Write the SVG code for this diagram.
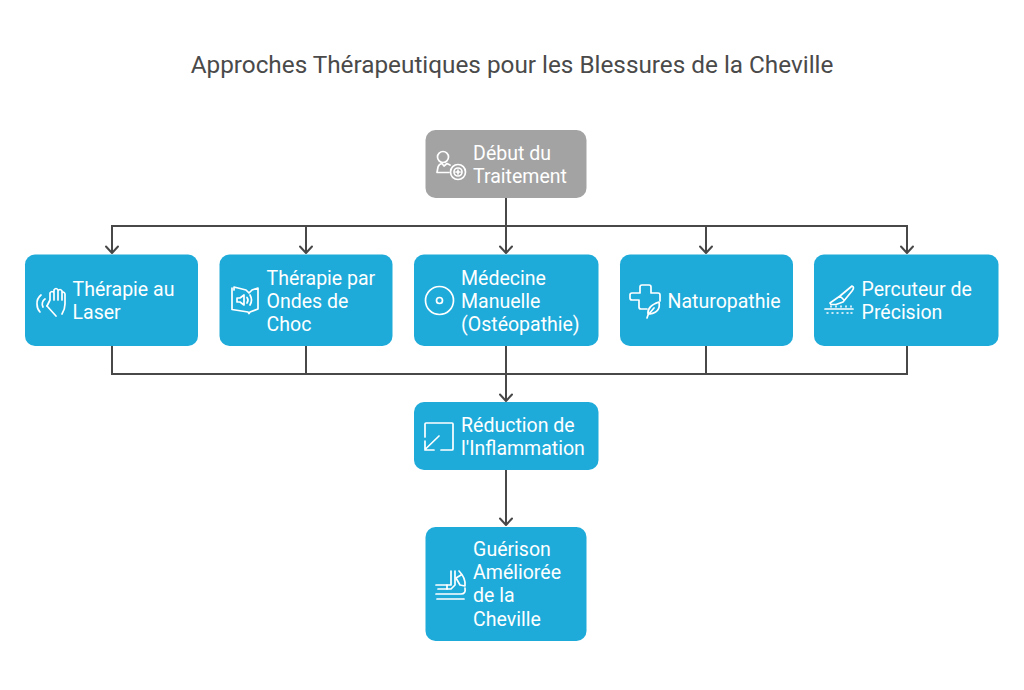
<svg xmlns="http://www.w3.org/2000/svg" width="1024" height="690" viewBox="0 0 1024 690">
<style>
text{font-family:Roboto,"Liberation Sans",sans-serif}
.t{font-size:19.5px;font-weight:400;fill:#fff;transform:translate(-.4px,.8px)}
.title{font-size:24.3px;fill:#4a4a4a}
.b{fill:#1eabda}
.g{fill:#a3a3a3}
.i{fill:none;stroke:#fff;stroke-width:1.7;stroke-linecap:round;stroke-linejoin:round}
.c{fill:none;stroke:#484848;stroke-width:2}
.a{fill:none;stroke:#484848;stroke-width:2;stroke-linecap:round;stroke-linejoin:round}
</style>
<defs>
<path id="ah" class="a" d="M-6-6.500 0 0 6-6.500"/>
</defs>
<rect width="1024" height="690" fill="#fff"/>
<text class="title" x="512" y="73" text-anchor="middle">Approches Thérapeutiques pour les Blessures de la Cheville</text>
<g id="connectors">
<path class="c" d="M506 198V252M112 252V226H907V252M306 226V252M706 226V252"/>
<path class="c" d="M112 346V374H907V346M306 346V374M506 346V400M706 346V374M506 470V524"/>
<use href="#ah" x="112" y="253"/><use href="#ah" x="306" y="253"/><use href="#ah" x="506" y="253"/><use href="#ah" x="706" y="253"/><use href="#ah" x="907" y="253"/><use href="#ah" x="506" y="401"/><use href="#ah" x="506" y="525"/>
</g>
<g id="n-debut">
<rect class="g" x="425.500" y="130" width="161" height="68" rx="10"/>
<g class="i"><circle cx="443" cy="157" r="5.500"/><path d="M437 172.500L438 167Q439 164 442 163.500L444 166 447 163.500 450 165M437 172.500H449"/><circle cx="458" cy="172" r="7.500"/><circle cx="458" cy="172" r="4"/><path d="M458 170V174M456 172H460"/></g>
<text class="t"><tspan x="473.500" y="159">Début du</tspan><tspan x="473.500" y="182">Traitement</tspan></text>
</g>
<g id="n-laser">
<rect class="b" x="25" y="254.500" width="173" height="91.500" rx="10"/>
<g class="i"><path d="M47 306L50 300V293Q52 290 54 293V300M54 292V290Q56 287 58 290V300M58 291Q60 288 62 291V300M62 293Q64 291 65 294V304Q65 309 62 314"/><path d="M47 306L56 316M45 299A6 6 0 0 0 43 307M41 295A11 11 0 0 0 37 304Q37 309 40 312"/></g>
<text class="t"><tspan x="73" y="295">Thérapie au</tspan><tspan x="73" y="318">Laser</tspan></text>
</g>
<g id="n-ondes">
<rect class="b" x="219.500" y="254.500" width="173" height="91.500" rx="10"/>
<g class="i"><path d="M234 290V287L246 290 249 293 252 290 258 288V309L250 312 249 313.500 248 312 232 309.500V288"/><path d="M237 298H240L244 295V305L240 302H237ZM247 297.500Q249 300 247 303M250 295Q253 300 250 305"/></g>
<text class="t"><tspan x="267" y="284">Thérapie par</tspan><tspan x="267" y="307">Ondes de</tspan><tspan x="267" y="330">Choc</tspan></text>
</g>
<g id="n-medecine">
<rect class="b" x="414" y="254.500" width="184.500" height="91.500" rx="10"/>
<g class="i"><circle cx="439.500" cy="300.500" r="14"/><circle cx="439.500" cy="300.500" r="3"/></g>
<text class="t"><tspan x="461.500" y="284">Médecine</tspan><tspan x="461.500" y="307">Manuelle</tspan><tspan x="461.500" y="330">(Ostéopathie)</tspan></text>
</g>
<g id="n-naturo">
<rect class="b" x="620" y="254.500" width="173" height="91.500" rx="10"/>
<g class="i"><path d="M647 309H641Q639 309 639 307V300H632Q630 300 630 298V296M640 287V293H632Q630 293 630 295V298M640 287Q640 285 642 285H649Q651 285 651 287V293H658Q660 293 660 295V301"/><path d="M648 314Q647 306 659 302Q661 312 650 314M648 315L654 308M648 315L647 318"/></g>
<text class="t" x="668" y="307">Naturopathie</text>
</g>
<g id="n-percuteur">
<rect class="b" x="814" y="254.500" width="184.500" height="91.500" rx="10"/>
<g class="i"><path d="M830 303L840 296 852 286Q855 287 852 291L843 302 836 304.500H831ZM840 296L844 300"/><path d="M825 309H853"/><path d="M831 306V307M836 306V307M841 306V307M846 306V307M851 306V307M827 313H828M832 313H833M837 313H838M842 313H843M847 313H848M851 313H852" stroke-width="1.500"/></g>
<text class="t"><tspan x="862" y="295">Percuteur de</tspan><tspan x="862" y="318">Précision</tspan></text>
</g>
<g id="n-reduction">
<rect class="b" x="414" y="402" width="184.500" height="68" rx="10"/>
<g class="i"><path d="M425 437V424Q425 423 426 423H452Q453 423 453 424V449Q453 450 452 450H441M425 449.500L439 436M425 441V450H434"/></g>
<text class="t"><tspan x="461.500" y="431">Réduction de</tspan><tspan x="461.500" y="454">l'Inflammation</tspan></text>
</g>
<g id="n-guerison">
<rect class="b" x="425.500" y="527" width="161" height="114" rx="10"/>
<g class="i"><path d="M436 585H451V571M455 571V585L451 589H438M436 594H461Q466 594 465 588M437 599H464"/><path d="M459 571Q466 578 465 586L460 585 456 578 461 575M447 589V585"/></g>
<text class="t"><tspan x="473.500" y="555">Guérison</tspan><tspan x="473.500" y="578">Améliorée</tspan><tspan x="473.500" y="601">de la</tspan><tspan x="473.500" y="625">Cheville</tspan></text>
</g>
</svg>
